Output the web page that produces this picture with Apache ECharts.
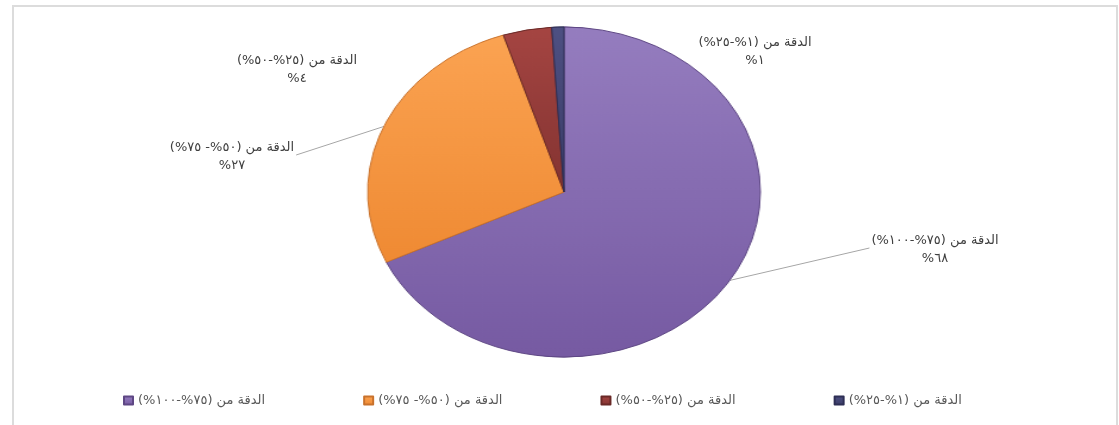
<!DOCTYPE html>
<html>
<head>
<meta charset="utf-8">
<script src="https://cdn.jsdelivr.net/npm/echarts@6/dist/echarts.min.js"></script>
<style>
  html, body { margin: 0; padding: 0; background: #ffffff; }
  #wrap { position: relative; width: 1119px; height: 425px; overflow: hidden; }
  #frame { position: absolute; left: 12px; top: 5px; width: 1106px; height: 440px;
           border: 2px solid #dcdcdc; box-sizing: border-box; }
  #base, #disc { position: absolute; left: 0; top: 0; width: 1119px; height: 425px; direction: rtl; }
  /* the pie disc is stretched sideways into an oval */
  #disc { transform-origin: 564px 192px; transform: scaleX(1.19); pointer-events: none; }
</style>
</head>
<body>
<div id="wrap">
  <div id="frame"></div>
  <div id="base"></div>
  <div id="disc"></div>
</div>
<script>
// accuracy bands and their shares (percent)
const categories = [
  'الدقة من (٧٥%-١٠٠%)',
  'الدقة من (٥٠%- ٧٥%)',
  'الدقة من (٢٥%-٥٠%)',
  'الدقة من (١%-٢٥%)'
];
const shares = [68, 27, 4, 1];

// slice colours: light top, dark bottom
const sliceTop    = ['#957dbf', '#fba352', '#a54542', '#4e5082'];
const sliceBottom = ['#765aa2', '#ef8a33', '#833331', '#3a3c68'];
const sliceEdge   = ['#5e4784', '#c9722c', '#6a2927', '#2e2f55'];

// where each label block sits (centre of the two lines)
const labelSpots = [[935, 250], [232, 157], [297, 70], [755, 52]];
const showGuide  = [true, true, false, false];

const CX = 564, CY = 192, R = 165, STRETCH = 1.19;

const indic = n => String(n).replace(/\d/g, d => '٠١٢٣٤٥٦٧٨٩'[d]);

function sliceData(withLabels) {
  return categories.map((name, i) => ({
    name: name,
    value: shares[i],
    itemStyle: {
      color: new echarts.graphic.LinearGradient(0, 0, 0, 1, [
        { offset: 0, color: sliceTop[i] },
        { offset: 1, color: sliceBottom[i] }
      ]),
      borderColor: sliceEdge[i],
      borderWidth: 1
    },
    labelLine: { show: withLabels && showGuide[i] }
  }));
}

const font = { fontFamily: 'DejaVu Sans', fontSize: 13, color: '#404040' };

const base = echarts.init(document.getElementById('base'), null, { renderer: 'canvas' });
base.setOption({
  animation: false,
  backgroundColor: 'transparent',
  legend: {
    orient: 'horizontal',
    left: 118,
    top: 389,
    itemWidth: 9,
    itemHeight: 8,
    itemGap: 98,
    icon: 'rect',
    selectedMode: false,
    textStyle: Object.assign({}, font, { color: '#595959' }),
    data: categories.slice()
  },
  series: [{
    type: 'pie',
    center: [CX, CY],
    radius: R,
    startAngle: 90,
    clockwise: true,
    silent: true,
    avoidLabelOverlap: false,
    label: Object.assign({
      show: true,
      position: 'outside',
      lineHeight: 18,
      align: 'center',
      formatter: p => p.name + '\n' + indic(p.value) + '%'
    }, font),
    labelLine: { show: true, length: 10, length2: 10, lineStyle: { color: '#a6a6a6', width: 1 } },
    labelLayout: function (params) {
      const i = params.dataIndex;
      const s = labelSpots[i];
      const out = { x: s[0], y: s[1], align: 'center', verticalAlign: 'middle' };
      if (showGuide[i] && params.labelLinePoints) {
        const p0 = params.labelLinePoints[0];
        const edge = [CX + (p0[0] - CX) * STRETCH, p0[1]];
        const w = params.labelRect.width;
        const side = edge[0] > s[0] ? 1 : -1;
        out.labelLinePoints = [edge, [s[0] + side * (w / 2 + 2), s[1] - 2]];
      }
      return out;
    },
    data: sliceData(true)
  }]
});

const disc = echarts.init(document.getElementById('disc'), null, { renderer: 'canvas' });
disc.setOption({
  animation: false,
  backgroundColor: 'transparent',
  series: [{
    type: 'pie',
    center: [CX, CY],
    radius: R,
    startAngle: 90,
    clockwise: true,
    silent: true,
    label: { show: false },
    labelLine: { show: false },
    data: sliceData(false)
  }]
});
</script>
</body>
</html>
